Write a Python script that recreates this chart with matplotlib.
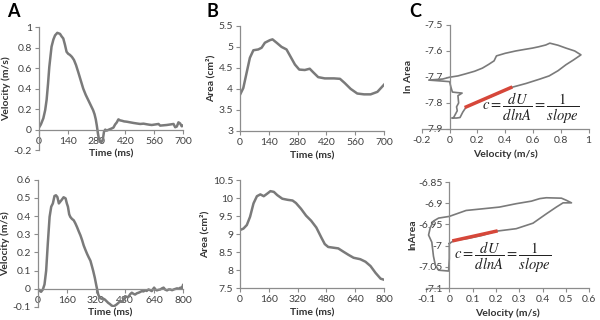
import matplotlib.pyplot as plt
from matplotlib.ticker import FuncFormatter

plt.rcParams['font.family'] = ['Lato', 'DejaVu Sans']
plt.rcParams['mathtext.fontset'] = 'stix'

# --- panel A top: velocity vs time
a1_t = [0, 9, 21, 30, 37, 44, 50, 56, 61, 70, 78, 89, 102, 110, 118, 126, 134, 142, 150, 160,
        170, 180, 191, 203, 215, 227, 239, 251, 263, 270, 276, 281, 286, 291, 297, 304, 310,
        316, 322, 329, 340, 352, 362, 370, 378, 386, 394, 402, 414, 427, 440, 459, 475, 492,
        508, 524, 536, 548, 565, 581, 589, 605, 621, 638, 654, 662, 670, 678, 686, 694, 700]
a1_v = [0.02, 0.05, 0.11, 0.19, 0.29, 0.45, 0.61, 0.72, 0.81, 0.88, 0.92, 0.945, 0.935, 0.91,
        0.89, 0.83, 0.76, 0.74, 0.73, 0.71, 0.68, 0.63, 0.56, 0.48, 0.40, 0.34, 0.29, 0.24,
        0.19, 0.15, 0.10, 0.04, -0.03, -0.09, -0.12, -0.12, -0.10, -0.02, 0.0, -0.01, 0.0,
        0.01, 0.02, 0.05, 0.07, 0.10, 0.09, 0.087, 0.08, 0.077, 0.072, 0.065, 0.06, 0.055,
        0.058, 0.052, 0.048, 0.045, 0.05, 0.055, 0.039, 0.042, 0.045, 0.05, 0.055, 0.023,
        0.03, 0.071, 0.06, 0.032, 0.04]

# --- panel B top: area vs time
b1_t = [0, 16, 32, 48, 65, 89, 105, 121, 145, 158, 178, 202, 226, 242, 267, 288, 315, 339,
        355, 380, 412, 457, 486, 509, 538, 570, 603, 635, 668, 700]
b1_a = [3.86, 4.02, 4.38, 4.74, 4.92, 4.94, 4.98, 5.10, 5.16, 5.18, 5.10, 5.00, 4.94, 4.80,
        4.58, 4.46, 4.45, 4.48, 4.40, 4.28, 4.25, 4.25, 4.24, 4.14, 4.00, 3.89, 3.87, 3.87,
        3.93, 4.10]

# --- panel C top: ln area vs velocity (loop)
c1_v = [0.02, 0.05, 0.075, 0.095, 0.12, 0.20, 0.30, 0.44, 0.55, 0.65, 0.716, 0.78, 0.837,
        0.89, 0.945, 0.90, 0.837, 0.78, 0.721, 0.692, 0.64, 0.596, 0.54, 0.476, 0.40, 0.337,
        0.32, 0.28, 0.236, 0.18, 0.115, 0.06, 0.0, -0.05, -0.15, -0.05, 0.0, 0.01, 0.02,
        0.05, 0.09, 0.06, 0.065, 0.05, 0.055, 0.04, 0.03, 0.02]
c1_ln = [-7.858, -7.858, -7.856, -7.835, -7.815, -7.797, -7.775, -7.741, -7.725, -7.708,
         -7.696, -7.676, -7.653, -7.635, -7.615, -7.600, -7.589, -7.578, -7.570, -7.577,
         -7.584, -7.589, -7.594, -7.600, -7.609, -7.619, -7.638, -7.652, -7.666, -7.678,
         -7.688, -7.696, -7.701, -7.708, -7.712, -7.716, -7.718, -7.74, -7.758, -7.76,
         -7.762, -7.772, -7.80, -7.815, -7.83, -7.845, -7.855, -7.858]
c1_red_v = [0.12, 0.44]
c1_red_ln = [-7.815, -7.741]

# --- panel A bottom: velocity vs time
a2_t = [0, 9, 18, 28, 37, 46, 55, 65, 74, 83, 92, 100, 108, 116, 124, 132, 142, 153, 160,
        166, 173, 179, 188, 198, 207, 216, 226, 235, 244, 253, 262, 272, 281, 290, 298,
        305, 314, 323, 333, 342, 351, 360, 370, 379, 388, 397, 406, 416, 425, 434, 444,
        453, 462, 471, 481, 490, 499, 509, 518, 527, 536, 546, 555, 564, 573, 582, 591,
        600, 610, 619, 628, 635, 641, 648, 656, 665, 675, 684, 693, 702, 712, 721, 730,
        740, 749, 758, 767, 776, 786, 793, 800]
a2_v = [0.0, -0.01, -0.017, -0.004, 0.024, 0.099, 0.247, 0.396, 0.452, 0.47, 0.511, 0.515,
        0.505, 0.47, 0.48, 0.49, 0.504, 0.498, 0.47, 0.452, 0.41, 0.396, 0.385, 0.377,
        0.36, 0.34, 0.315, 0.294, 0.268, 0.238, 0.215, 0.191, 0.172, 0.154, 0.125, 0.099,
        0.061, 0.015, -0.032, -0.05, -0.055, -0.054, -0.06, -0.069, -0.078, -0.084, -0.092,
        -0.097, -0.093, -0.087, -0.078, -0.069, -0.072, -0.065, -0.041, -0.045, -0.046,
        -0.03, -0.022, -0.028, -0.032, -0.025, -0.022, -0.018, -0.013, -0.015, -0.009,
        -0.012, -0.004, -0.008, -0.013, -0.002, 0.006, -0.004, -0.009, -0.006, -0.004,
        0.002, 0.006, -0.005, -0.009, -0.004, -0.004, -0.008, -0.004, -0.001, 0.002, 0.0,
        0.006, 0.0, 0.02]

# --- panel B bottom: area vs time
b2_t = [0, 19, 38, 56, 75, 94, 113, 132, 151, 169, 188, 207, 235, 264, 292, 311, 339, 367,
        395, 424, 452, 471, 490, 518, 546, 574, 603, 631, 668, 697, 725, 753, 781, 800]
b2_a = [9.11, 9.15, 9.25, 9.48, 9.85, 10.05, 10.10, 10.05, 10.12, 10.19, 10.17, 10.08, 9.98,
        9.95, 9.93, 9.86, 9.70, 9.51, 9.37, 9.18, 8.90, 8.72, 8.64, 8.62, 8.60, 8.51, 8.42,
        8.34, 8.30, 8.23, 8.11, 7.92, 7.76, 7.73]

# --- panel C bottom: ln area vs velocity (loop)
c2_v = [0.0, 0.02, 0.08, 0.14, 0.20, 0.287, 0.359, 0.416, 0.459, 0.488, 0.524, 0.502, 0.481,
        0.416, 0.388, 0.352, 0.287, 0.215, 0.144, 0.072, 0.0, -0.046, -0.068, -0.082,
        -0.089, -0.075, -0.068, -0.060, -0.046, -0.003, 0.0, 0.0]
c2_ln = [-6.995, -6.988, -6.983, -6.976, -6.966, -6.960, -6.947, -6.925, -6.909, -6.899,
         -6.899, -6.893, -6.888, -6.887, -6.889, -6.895, -6.901, -6.909, -6.913, -6.917,
         -6.931, -6.935, -6.942, -6.958, -6.975, -6.992, -7.025, -7.046, -7.058, -7.06,
         -7.03, -6.995]
c2_red_v = [0.02, 0.20]
c2_red_ln = [-6.988, -6.966]

line_c = '#7a7a7a'
red_c = '#d6473a'
txt_c = '#404040'
eq = r'$c=\dfrac{dU}{dlnA}=\dfrac{1}{slope}$'

fig = plt.figure(figsize=(6, 3.2), dpi=100)


def style(ax, xticks, yticks, xlabel, ylabel, xspine=None, yspine=None):
    for s in ['top', 'right']:
        ax.spines[s].set_visible(False)
    for s in ['left', 'bottom']:
        ax.spines[s].set_color('#8c8c8c')
        ax.spines[s].set_linewidth(0.9)
    if xspine is not None:
        ax.spines['bottom'].set_position(('data', xspine))
    if yspine is not None:
        ax.spines['left'].set_position(('data', yspine))
    ax.set_xticks(xticks)
    ax.set_yticks(yticks)
    ax.set_xlim(xticks[0], xticks[-1])
    ax.set_ylim(yticks[0], yticks[-1])
    fmt = FuncFormatter(lambda v, p: '{:g}'.format(round(v, 3)))
    ax.xaxis.set_major_formatter(fmt)
    ax.yaxis.set_major_formatter(fmt)
    ax.tick_params(labelsize=7.5, colors='#8c8c8c', labelcolor=txt_c, length=3,
                   width=0.8, pad=2)
    ax.set_xlabel(xlabel, fontsize=7.5, fontweight='bold', color='#333333', labelpad=3)
    ax.set_ylabel(ylabel, fontsize=7.5, fontweight='bold', color='#333333', labelpad=2)
    ax.patch.set_alpha(0)


# top row
ax = fig.add_axes([0.065, 0.531, 0.24, 0.384])
ax.plot(a1_t, a1_v, color=line_c, lw=1.8)
style(ax, [0, 140, 280, 420, 560, 700], [-0.2, 0, 0.2, 0.4, 0.6, 0.8, 1],
      'Time (ms)', 'Velocity (m/s)', xspine=0)

ax = fig.add_axes([0.40, 0.591, 0.24, 0.328])
ax.plot(b1_t, b1_a, color=line_c, lw=1.8)
style(ax, [0, 140, 280, 420, 560, 700], [3, 3.5, 4, 4.5, 5, 5.5],
      'Time (ms)', 'Area (cm²)')

ax = fig.add_axes([0.703, 0.597, 0.278, 0.325])
ax.plot(c1_v, c1_ln, color=line_c, lw=1.2)
ax.plot(c1_red_v, c1_red_ln, color=red_c, lw=2.5)
style(ax, [-0.2, 0, 0.2, 0.4, 0.6, 0.8, 1], [-7.9, -7.8, -7.7, -7.6, -7.5],
      'Velocity (m/s)', 'ln Area', yspine=0)
ax.yaxis.set_label_coords(-0.05, 0.5)
ax.text(0.23, -7.82, eq, fontsize=10.5, ha='left', va='center', color='#222222')

# bottom row
ax = fig.add_axes([0.063, 0.041, 0.242, 0.397])
ax.plot(a2_t, a2_v, color=line_c, lw=1.8)
style(ax, [0, 160, 320, 480, 640, 800], [-0.1, 0, 0.1, 0.2, 0.3, 0.4, 0.5, 0.6],
      'Time (ms)', 'Velocity (m/s)', xspine=0)

ax = fig.add_axes([0.40, 0.10, 0.24, 0.3375])
ax.plot(b2_t, b2_a, color=line_c, lw=1.8)
style(ax, [0, 160, 320, 480, 640, 800], [7.5, 8, 8.5, 9, 9.5, 10, 10.5],
      'Time (ms)', 'Area (cm²)')

ax = fig.add_axes([0.71, 0.10, 0.272, 0.331])
ax.plot(c2_v, c2_ln, color=line_c, lw=1.2)
ax.plot(c2_red_v, c2_red_ln, color=red_c, lw=2.5)
style(ax, [-0.1, 0, 0.1, 0.2, 0.3, 0.4, 0.5, 0.6], [-7.1, -7.05, -7, -6.95, -6.9, -6.85],
      'Velocity (m/s)', 'lnArea', yspine=0)
ax.yaxis.set_label_coords(-0.05, 0.5)
ax.text(0.018, -7.027, eq, fontsize=10.5, ha='left', va='center', color='#222222')

for lx, lab in [(0.012, 'A'), (0.345, 'B'), (0.682, 'C')]:
    fig.text(lx, 0.965, lab, fontsize=13, fontweight='bold', va='center', ha='left')

fig.savefig('out.png', dpi=100)
